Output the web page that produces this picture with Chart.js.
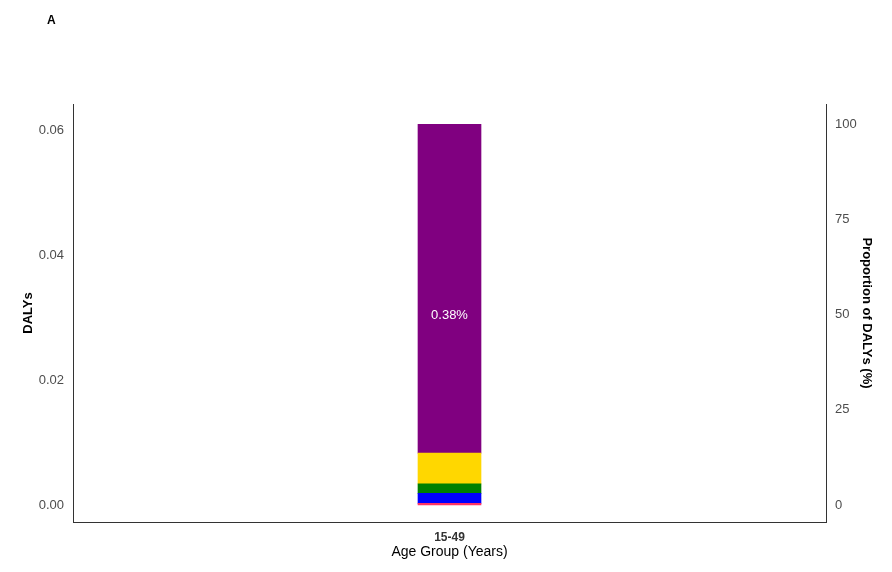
<!DOCTYPE html>
<html>
<head>
<meta charset="utf-8">
<script src="https://cdn.jsdelivr.net/npm/chart.js@4.4.1/dist/chart.umd.min.js"></script>
<style>
    html, body { margin: 0; padding: 0; background: #fff; }
    #wrap { position: relative; width: 892px; height: 572px; }
    #panel { position: absolute; left: 47px; top: 13px; font: bold 12px "Liberation Sans", Arial, sans-serif; color: #000; }
</style>
</head>
<body>
<div id="wrap">
    <canvas id="dalyChart" width="892" height="572"></canvas>
    <div id="panel">A</div>
</div>
<script>
// Data
const ageGroups = ['15-49'];
const causeNames = ['Cause 1', 'Cause 2', 'Cause 3', 'Cause 4', 'Cause 5'];
const causeValues = [0.00025, 0.0016, 0.00154, 0.0049, 0.0526]; // DALYs, bottom to top
const causeColors = ['#FF3366', '#0000FF', '#008000', '#FFD700', '#800080'];
const leftTicks = [0, 0.02, 0.04, 0.06];
const rightTicks = [0, 25, 50, 75, 100];
const barLabels = ['0.38%'];
const labelAtPercent = [50];

const total = causeValues.reduce((a, b) => a + b, 0);
const yMin = -0.00272;
const yMax = 0.06416;

const datasets = causeValues.map((v, i) => ({
    label: causeNames[i],
    data: [v],
    backgroundColor: causeColors[i],
    borderWidth: 0,
    barThickness: 63,
    yAxisID: 'y'
}));

const tickFont = { family: '"Liberation Sans", Arial, sans-serif', size: 13 };
const titleFont = { family: '"Liberation Sans Narrow", "Liberation Sans", Arial, sans-serif', size: 13, weight: 'bold' };

// draws the percentage text inside the bar, positioned on the right axis
const barLabelPlugin = {
    id: 'barLabel',
    afterDatasetsDraw(chart) {
        const ctx = chart.ctx;
        const x = chart.scales.x;
        const y2 = chart.scales.y2;
        ctx.save();
        ctx.fillStyle = '#ffffff';
        ctx.font = '13px "Liberation Sans", Arial, sans-serif';
        ctx.textAlign = 'center';
        ctx.textBaseline = 'middle';
        barLabels.forEach((txt, i) => {
            ctx.fillText(txt, x.getPixelForValue(i), y2.getPixelForValue(labelAtPercent[i]) + 1);
        });
        ctx.restore();
    }
};

new Chart(document.getElementById('dalyChart'), {
    type: 'bar',
    data: { labels: ageGroups, datasets: datasets },
    options: {
        responsive: false,
        animation: false,
        layout: { padding: { top: 104, left: 0, right: 0, bottom: 0 } },
        plugins: { legend: { display: false }, tooltip: { enabled: false } },
        scales: {
            x: {
                stacked: true,
                grid: { display: false, drawTicks: false },
                border: { display: true, color: '#333', width: 1 },
                ticks: { color: '#333', font: { family: tickFont.family, size: 12, weight: 'bold' }, padding: 8 },
                title: { display: true, text: 'Age Group (Years)', color: '#000', font: { family: '"Liberation Sans", Arial, sans-serif', size: 14 }, padding: { top: 0, bottom: 11 } },
                afterFit(scale) { scale.height = 50; }
            },
            y: {
                stacked: true,
                position: 'left',
                min: yMin,
                max: yMax,
                afterBuildTicks(scale) { scale.ticks = leftTicks.map(v => ({ value: v })); },
                grid: { display: false, drawTicks: false },
                border: { display: true, color: '#333', width: 1 },
                ticks: { color: '#4d4d4d', font: tickFont, padding: 9, callback: v => v.toFixed(2) },
                title: { display: true, text: 'DALYs', color: '#000', font: titleFont, padding: { top: 21, bottom: 0 } },
                afterFit(scale) { scale.width = 73; }
            },
            y2: {
                position: 'right',
                min: yMin / total * 100,
                max: yMax / total * 100,
                afterBuildTicks(scale) { scale.ticks = rightTicks.map(v => ({ value: v })); },
                grid: { display: false, drawTicks: false },
                border: { display: true, color: '#333', width: 1 },
                ticks: { color: '#4d4d4d', font: tickFont, padding: 9 },
                title: { display: true, text: 'Proportion of DALYs (%)', color: '#000', font: titleFont, padding: { top: 18, bottom: 0 } },
                afterFit(scale) { scale.width = 66; }
            }
        }
    },
    plugins: [barLabelPlugin]
});
</script>
</body>
</html>
